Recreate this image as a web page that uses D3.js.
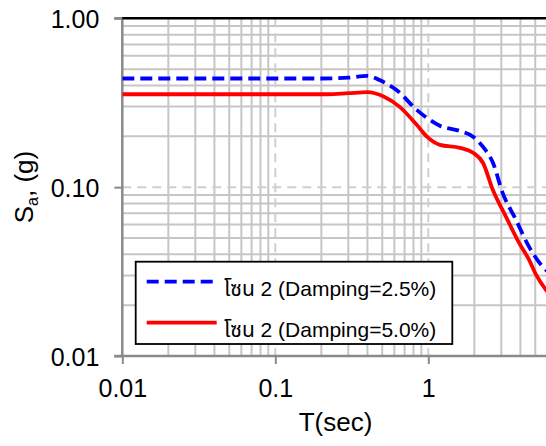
<!DOCTYPE html>
<html><head><meta charset="utf-8">
<script src="https://cdn.jsdelivr.net/npm/d3@7"></script>
<style>body{margin:0;background:#fff}svg{display:block}text{font-family:"Liberation Sans",Arial,"Noto Sans Thai","Noto Sans",sans-serif;fill:#000}</style>
</head><body>
<svg id="c" width="546" height="446"></svg>
<script>
// Data
const periodsBlue = [0.01, 0.05, 0.2, 0.3, 0.4, 0.48, 0.62, 0.84, 0.98, 1.19, 1.61, 1.96, 2.28, 2.65, 3.06, 3.74, 4.55, 5.59, 6.2];
const saBlue =      [0.44, 0.44, 0.44, 0.445, 0.456, 0.431, 0.376, 0.287, 0.257, 0.231, 0.215, 0.199, 0.173, 0.139, 0.0925, 0.0641, 0.0444, 0.0338, 0.031];
const periodsRed =  [0.01, 0.05, 0.22, 0.3, 0.4, 0.51, 0.65, 0.84, 0.98, 1.19, 1.61, 1.96, 2.28, 2.64, 3.22, 3.92, 4.55, 5.06, 5.87, 6.3];
const saRed =       [0.355, 0.355, 0.355, 0.36, 0.365, 0.344, 0.299, 0.234, 0.199, 0.178, 0.171, 0.160, 0.139, 0.0964, 0.0667, 0.0468, 0.0372, 0.0303, 0.0247, 0.023];
const seriesNames = ["โซน 2 (Damping=2.5%)", "โซน 2 (Damping=5.0%)"];
const xTickValues = [0.01, 0.1, 1];
const xTickLabels = ["0.01", "0.1", "1"];
const yTickValues = [0.01, 0.1, 1];
const yTickLabels = ["0.01", "0.10", "1.00"];

const svg = d3.select("#c");
const L = 122.3, T = 18.3, B = 356, R = 581.3;
const x = d3.scaleLog().domain([0.01, 10]).range([L, R]);
const y = d3.scaleLog().domain([0.01, 1]).range([B, T]);

// minor grid values
const minorX = [], minorY = [];
[0.01, 0.1, 1].forEach(d => { for (let k = 2; k <= 9; k++) minorX.push(d * k); });
[0.01, 0.1].forEach(d => { for (let k = 2; k <= 9; k++) minorY.push(d * k); });

const g = svg.append("g");
g.selectAll(".mx").data(minorX).join("line")
  .attr("x1", d => x(d)).attr("x2", d => x(d)).attr("y1", T).attr("y2", B)
  .attr("stroke", "#c6c6c6").attr("stroke-width", 2);
g.selectAll(".my").data(minorY).join("line")
  .attr("x1", L).attr("x2", R).attr("y1", d => y(d)).attr("y2", d => y(d))
  .attr("stroke", "#c6c6c6").attr("stroke-width", 2);
// major dashed
g.selectAll(".Mx").data([0.1, 1]).join("line")
  .attr("x1", d => x(d)).attr("x2", d => x(d)).attr("y1", T).attr("y2", B)
  .attr("stroke", "#cfcfcf").attr("stroke-width", 2).attr("stroke-dasharray", "9,6");
g.selectAll(".My").data([0.1]).join("line")
  .attr("x1", L).attr("x2", R).attr("y1", d => y(d)).attr("y2", d => y(d))
  .attr("stroke", "#cfcfcf").attr("stroke-width", 2).attr("stroke-dasharray", "9,6");

// axes
const yAxis = d3.axisLeft(y).tickValues(yTickValues).tickSize(8).tickPadding(15)
  .tickFormat((d, i) => yTickLabels[i]);
const ya = svg.append("g").attr("transform", `translate(${L},0)`).call(yAxis);
ya.select(".domain").attr("stroke", "#8a8a8a").attr("stroke-width", 2.5).attr("d", `M-8,${B}H0V${T}H-8`);
ya.selectAll(".tick line").attr("stroke", "#8a8a8a").attr("stroke-width", 2);
ya.selectAll(".tick text").attr("font-size", 25).attr("font-family", "Liberation Sans, Arial, sans-serif").attr("dy", "0.36em").attr("x", -23);

const xAxis = d3.axisBottom(x).tickValues(xTickValues).tickSize(8).tickPadding(12)
  .tickFormat((d, i) => xTickLabels[i]);
const xa = svg.append("g").attr("transform", `translate(0,${B})`).call(xAxis);
xa.select(".domain").attr("stroke", "#8a8a8a").attr("stroke-width", 2.5).attr("d", `M${L},0H${R}`);
xa.selectAll(".tick line").attr("stroke", "#8a8a8a").attr("stroke-width", 2);
xa.selectAll(".tick text").attr("font-size", 25).attr("font-family", "Liberation Sans, Arial, sans-serif").attr("y", 41).attr("dy", 0);

// top border
svg.append("line").attr("x1", L).attr("x2", R).attr("y1", T).attr("y2", T)
  .attr("stroke", "#000").attr("stroke-width", 2.5);

// curves
svg.append("defs").append("clipPath").attr("id", "clip").append("rect")
  .attr("x", L).attr("y", T).attr("width", R - L).attr("height", B - T);
const line = d3.line().x(d => x(d[0])).y(d => y(d[1])).curve(d3.curveMonotoneX);
const redPts = periodsRed.map((p, i) => [p, saRed[i]]);
const bluePts = periodsBlue.map((p, i) => [p, saBlue[i]]);
svg.append("path").datum(redPts).attr("d", line).attr("fill", "none")
  .attr("stroke", "#ff0000").attr("stroke-width", 3.8).attr("clip-path", "url(#clip)");
svg.append("path").datum(bluePts).attr("d", line).attr("fill", "none")
  .attr("stroke", "#0000ff").attr("stroke-width", 3.8).attr("stroke-dasharray", "12,6").attr("clip-path", "url(#clip)");

// axis titles
svg.append("text").attr("x", 335.5).attr("y", 431).attr("text-anchor", "middle")
  .attr("font-size", 26).text("T(sec)");
const yt = svg.append("text").attr("transform", "translate(33,187) rotate(-90)")
  .attr("text-anchor", "middle").attr("font-size", 26);
yt.append("tspan").text("S");
yt.append("tspan").attr("font-size", 16).attr("dy", 5).text("a");
yt.append("tspan").attr("dy", -5).text(", (g)");

// legend
const lg = svg.append("g");
lg.append("rect").attr("x", 135.7).attr("y", 261.7).attr("width", 316.6).attr("height", 82.3)
  .attr("fill", "#fff").attr("stroke", "#000").attr("stroke-width", 1.8);
const legY = [281.7, 322.7];
const legStyles = [{c: "#0000ff", dash: "12,6"}, {c: "#ff0000", dash: null}];
seriesNames.forEach((n, i) => {
  lg.append("line").attr("x1", 146.7).attr("x2", 216.7).attr("y1", legY[i]).attr("y2", legY[i])
    .attr("stroke", legStyles[i].c).attr("stroke-width", 3.8).attr("stroke-dasharray", legStyles[i].dash);
  lg.append("text").attr("x", 224).attr("y", legY[i] + 14.5).attr("font-size", 21).text(n);
});
</script>
</body></html>
